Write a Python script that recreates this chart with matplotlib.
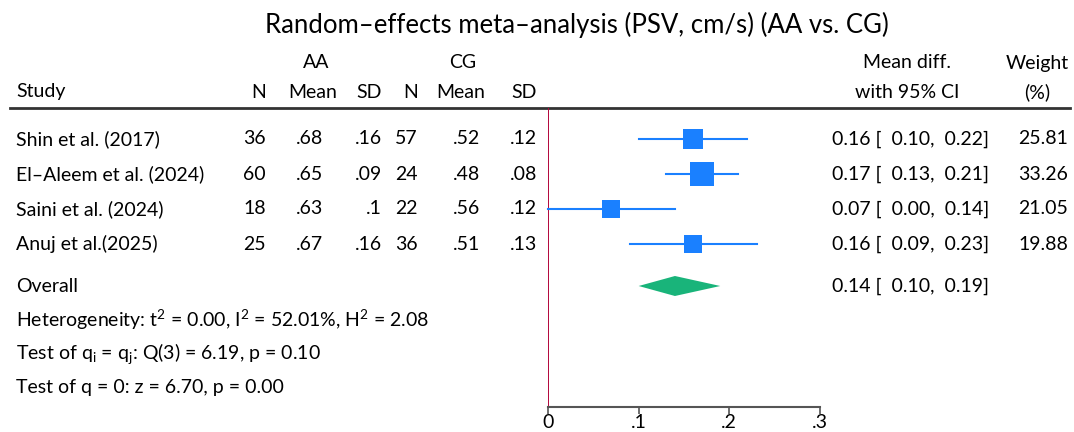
import numpy as np
import matplotlib
matplotlib.use("Agg")
import matplotlib.pyplot as plt

plt.rcParams['font.family'] = ['Lato', 'DejaVu Sans']

studies = ["Shin et al. (2017)", "El\u2013Aleem et al. (2024)", "Saini et al. (2024)", "Anuj et al.(2025)"]
aa_n = ["36", "60", "18", "25"]
aa_mean = [".68", ".65", ".63", ".67"]
aa_sd = [".16", ".09", ".1", ".16"]
cg_n = ["57", "24", "22", "36"]
cg_mean = [".52", ".48", ".56", ".51"]
cg_sd = [".12", ".08", ".12", ".13"]
md = [0.16, 0.17, 0.07, 0.16]
lo = [0.10, 0.13, 0.00, 0.09]
hi = [0.22, 0.21, 0.14, 0.23]
weight = [25.81, 33.26, 21.05, 19.88]
overall = (0.14, 0.10, 0.19)
stats_lines = [
    r"Heterogeneity: t$\mathregular{^2}$ = 0.00, I$\mathregular{^2}$ = 52.01%, H$\mathregular{^2}$ = 2.08",
    r"Test of q$\mathregular{_i}$ = q$\mathregular{_j}$: Q(3) = 6.19, p = 0.10",
    "Test of q = 0: z = 6.70, p = 0.00",
]
ticks = [0, 0.1, 0.2, 0.3]
tick_labels = ["0", ".1", ".2", ".3"]

W, H = 1074, 432
fig = plt.figure(figsize=(W / 100, H / 100), dpi=100)

# text layer in pixel coordinates
tx = fig.add_axes([0, 0, 1, 1])
tx.set_xlim(0, W)
tx.set_ylim(H, 0)
tx.axis("off")

# forest panel: x 548..820 px, y 108..407 px
fx0, fx1, fy0, fy1 = 548, 820, 108, 407
ax = fig.add_axes([fx0 / W, 1 - fy1 / H, (fx1 - fx0) / W, (fy1 - fy0) / H])
ax.set_xlim(0, 0.3)
ax.set_ylim(fy1, fy0)
ax.patch.set_alpha(0)
for s in ["top", "right", "left"]:
    ax.spines[s].set_visible(False)
ax.spines["bottom"].set_color("#555555")
ax.spines["bottom"].set_linewidth(1.5)
ax.set_yticks([])
ax.set_xticks(ticks)
ax.set_xticklabels(tick_labels)
ax.tick_params(axis="x", length=5, width=1.2, color="#555555", labelsize=14, pad=0)

blue = "#1a80ff"
green = "#19b47a"
fs = 14

row_y = [139, 174, 209, 244]
ov_y = 286

ax.axvline(0, color="#b3053b", lw=1.4, zorder=1)
for i in range(len(md)):
    ax.plot([lo[i], hi[i]], [row_y[i], row_y[i]], color=blue, lw=1.5, clip_on=False, zorder=2)
    ax.plot(md[i], row_y[i], marker="s", color=blue, ms=2.88 * np.sqrt(weight[i]),
            mew=0, clip_on=False, zorder=3)
m, l, h = overall
ax.fill([l, m, h, m], [ov_y, ov_y - 10, ov_y, ov_y + 10], color=green, lw=0, zorder=3)

# title and header
tx.text(577, 25, "Random\u2013effects meta\u2013analysis (PSV, cm/s) (AA vs. CG)", ha="center", va="center", fontsize=18.5)
tx.text(316, 63, "AA", ha="center", va="center", fontsize=fs)
tx.text(463, 63, "CG", ha="center", va="center", fontsize=fs)
tx.text(16, 92, "Study", ha="left", va="center", fontsize=fs)
hdr = [("N", 266, "right"), ("Mean", 313, "center"), ("SD", 382, "right"),
       ("N", 418, "right"), ("Mean", 461, "center"), ("SD", 537, "right")]
for t, x, a in hdr:
    tx.text(x, 92, t, ha=a, va="center", fontsize=fs)
tx.text(907, 63, "Mean diff.", ha="center", va="center", fontsize=fs)
tx.text(907, 92, "with 95% CI", ha="center", va="center", fontsize=fs)
tx.text(1037, 63, "Weight", ha="center", va="center", fontsize=fs)
tx.text(1037, 92, "(%)", ha="center", va="center", fontsize=fs)
tx.plot([10, 1070], [108, 108], color="#333333", lw=2)

cols = [(aa_n, 266), (aa_mean, 323), (aa_sd, 382), (cg_n, 418), (cg_mean, 480), (cg_sd, 537)]
for i, name in enumerate(studies):
    y = row_y[i]
    tx.text(16, y, name, ha="left", va="center", fontsize=fs)
    for vals, x in cols:
        tx.text(x, y, vals[i], ha="right", va="center", fontsize=fs)
    tx.text(832, y, f"{md[i]:.2f} [  {lo[i]:.2f},  {hi[i]:.2f}]", ha="left", va="center", fontsize=fs)
    tx.text(1068, y, f"{weight[i]:.2f}", ha="right", va="center", fontsize=fs)

tx.text(16, ov_y, "Overall", ha="left", va="center", fontsize=fs)
tx.text(832, ov_y, f"{m:.2f} [  {l:.2f},  {h:.2f}]", ha="left", va="center", fontsize=fs)
for k, line in enumerate(stats_lines):
    tx.text(16, 320 + 34 * k, line, ha="left", va="center", fontsize=fs)

fig.savefig("out.png", dpi=100)
